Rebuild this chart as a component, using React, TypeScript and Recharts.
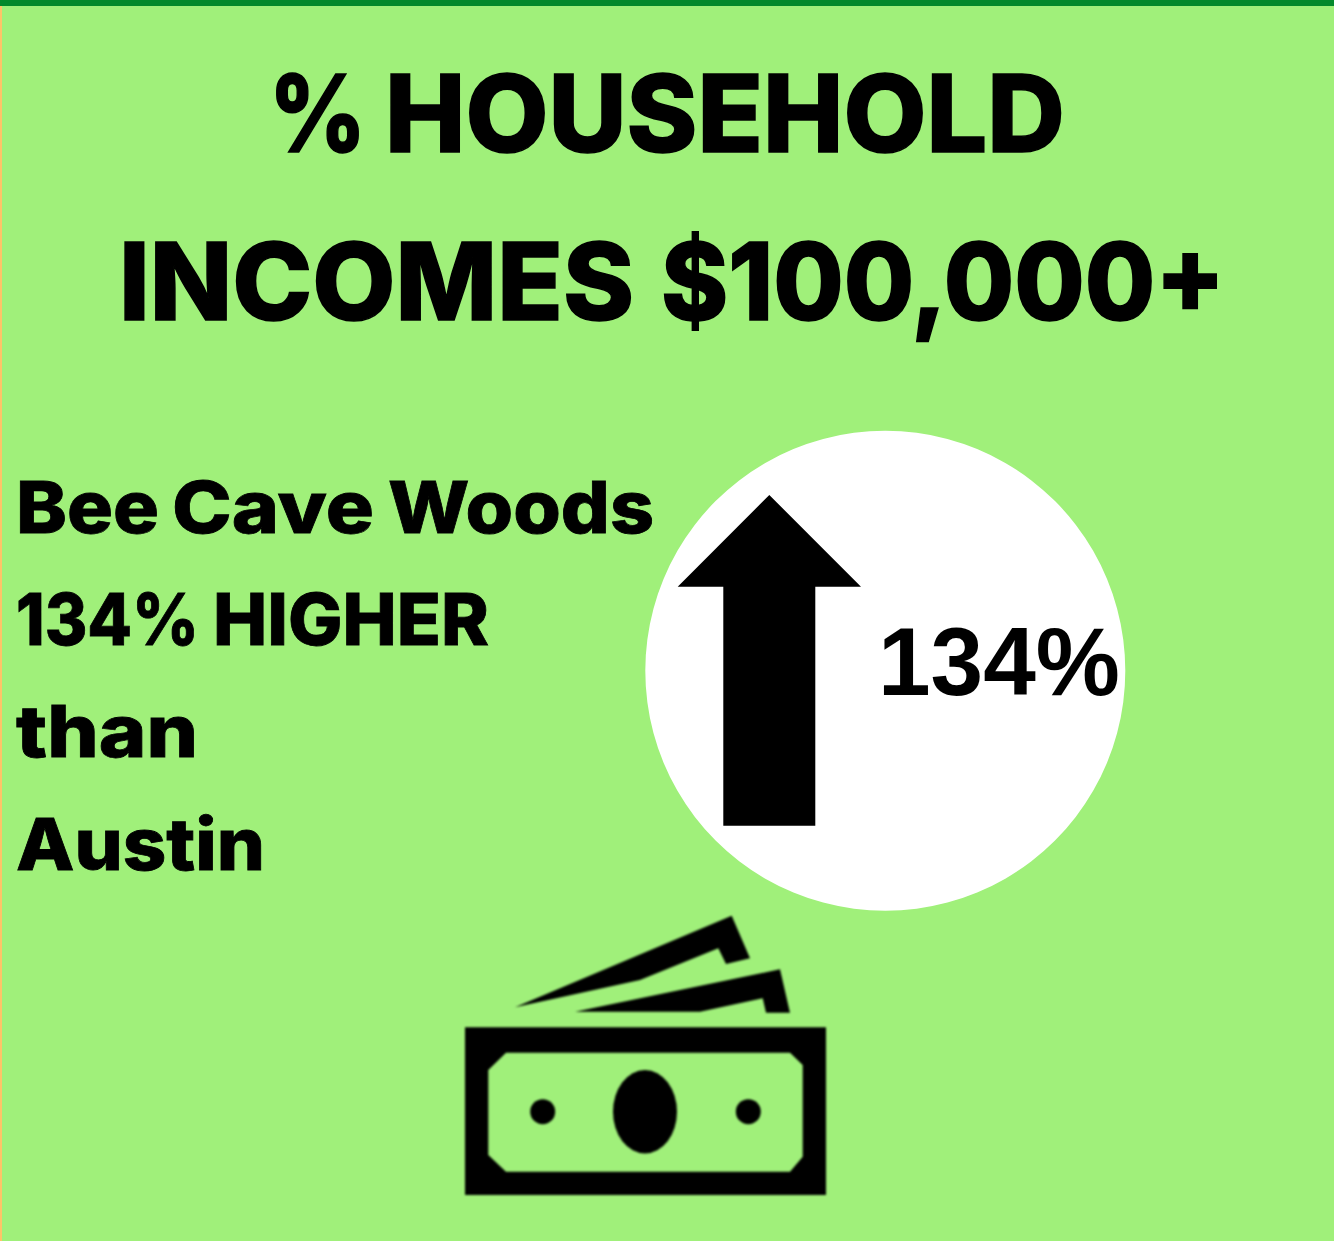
import { Cell, Pie, PieChart } from 'recharts';

const titleLines = ['% HOUSEHOLD', 'INCOMES $100,000+'];
const calloutLines = ['Bee Cave Woods', '134% HIGHER', 'than', 'Austin'];
const circleLabel = '134%';
const circleValues = [{ name: 'Bee Cave Woods vs Austin', value: 134 }];

const WIDTH = 1334;
const HEIGHT = 1241;
const HEADING_FONT = 'Inter, "Noto Sans", sans-serif';

// measured extents of each word in the picture: [left, width]
const titleWords = [
  [[269, 97], [385, 680]],
  [[119, 515], [661, 564]],
];
const titleBaselines = [152, 320];
const calloutWords = [
  [[16, 143], [172, 202], [388, 266]],
  [[16, 183], [213, 276]],
  [[16, 182]],
  [[16, 249]],
];
const calloutBaselines = [533, 645, 757, 870];

function WordLine({
  line,
  words,
  y,
  size,
  weightStroke,
}: {
  line: string;
  words: number[][];
  y: number;
  size: number;
  weightStroke: number;
}) {
  return (
    <text
      y={y}
      fontFamily={HEADING_FONT}
      fontWeight={800}
      fontSize={size}
      fill="#000"
      stroke="#000"
      strokeWidth={weightStroke}
    >
      {line.split(' ').map((word, i) => (
        <tspan key={word} x={words[i][0]} textLength={words[i][1]} lengthAdjust="spacingAndGlyphs">
          {word}
        </tspan>
      ))}
    </text>
  );
}

// the arrow and figure sit on top of the circle, so they go in the pie's label
function CircleContents() {
  return (
    <g>
      <polygon
        points="769.3,495 861,586.7 815.3,586.7 815.3,825.7 723.3,825.7 723.3,586.7 677.7,586.7"
        fill="#000"
      />
      <text
        x={878}
        y={695}
        textLength={242}
        lengthAdjust="spacingAndGlyphs"
        fontFamily='"Liberation Sans", Arial, sans-serif'
        fontWeight={700}
        fontSize={96}
        fill="#000"
      >
        {circleLabel}
      </text>
    </g>
  );
}

function MoneyIcon() {
  return (
    <g filter="url(#iconSoft)">
      <polygon points="515,1007.3 731.7,915.7 750,958.3 726,964 718.3,948.3 640,980" fill="#000" />
      <polygon points="575,1011.7 780,969.3 790,1012.7 766,1012.7 762.7,998.3 700,1011.7" fill="#000" />
      <path
        fillRule="evenodd"
        fill="#000"
        d="M465 1027.3H826V1195H465Z M506 1052.7H790L802.7 1065V1156.7L790 1171.7H506L488.3 1155V1070Z"
      />
      <ellipse cx={645} cy={1111.7} rx={32} ry={41.7} fill="#000" />
      <circle cx={542.7} cy={1111.7} r={12.5} fill="#000" />
      <circle cx={748.3} cy={1111.7} r={12.5} fill="#000" />
    </g>
  );
}

export default function App() {
  return (
    <div
      style={{
        position: 'absolute',
        left: 0,
        top: 0,
        width: WIDTH,
        height: HEIGHT,
        background: '#a0f07a',
        overflow: 'hidden',
      }}
    >
      <div style={{ position: 'absolute', left: 0, top: 0, width: 2, height: HEIGHT, background: '#fdc468' }} />
      <div style={{ position: 'absolute', left: 0, top: 0, width: WIDTH, height: 6, background: '#03892b' }} />
      <PieChart width={WIDTH} height={HEIGHT} margin={{ top: 0, right: 0, bottom: 0, left: 0 }}>
        <defs>
          <filter id="iconSoft" x="-5%" y="-5%" width="110%" height="110%">
            <feGaussianBlur stdDeviation="0.8" />
          </filter>
        </defs>
        <Pie
          data={circleValues}
          dataKey="value"
          nameKey="name"
          cx={885.3}
          cy={670.8}
          innerRadius={0}
          outerRadius={240}
          startAngle={90}
          endAngle={-270}
          stroke="none"
          label={CircleContents}
          labelLine={false}
          isAnimationActive={false}
        >
          <Cell fill="#ffffff" />
        </Pie>
        {titleLines.map((line, i) => (
          <WordLine key={line} line={line} words={titleWords[i]} y={titleBaselines[i]} size={107} weightStroke={1.5} />
        ))}
        {calloutLines.map((line, i) => (
          <WordLine key={line} line={line} words={calloutWords[i]} y={calloutBaselines[i]} size={72} weightStroke={0.8} />
        ))}
        <MoneyIcon />
      </PieChart>
    </div>
  );
}
